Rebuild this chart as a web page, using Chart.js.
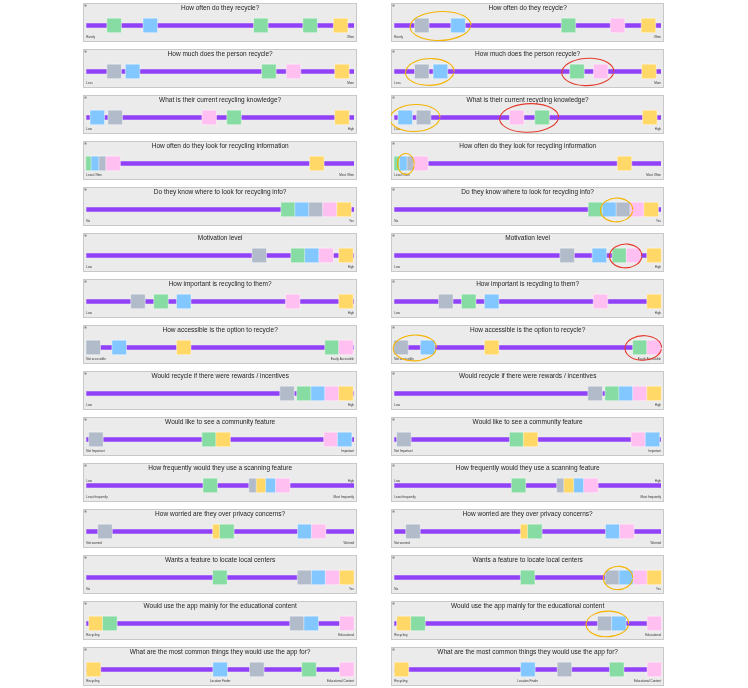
<!DOCTYPE html>
<html><head><meta charset="utf-8">
<script src="https://cdn.jsdelivr.net/npm/chart.js@4"></script>
<style>
body{margin:0;background:#fff;width:748px;height:688px;position:relative;overflow:hidden}
canvas{position:absolute}
</style></head><body>
<script>
const titles = [
  "How often do they recycle?",
  "How much does the person recycle?",
  "What is their current recycling knowledge?",
  "How often do they look for recycling information",
  "Do they know where to look for recycling info?",
  "Motivation level",
  "How important is recycling to them?",
  "How accessible is the option to recycle?",
  "Would recycle if there were rewards / incentives",
  "Would like to see a community feature",
  "How frequently would they use a scanning feature",
  "How worried are they over privacy concerns?",
  "Wants a feature to locate local centers",
  "Would use the app mainly for the educational content",
  "What are the most common things they would use the app for?"
];
const axisLabels = [
  ["Rarely","Often"],
  ["Less","More"],
  ["Low","High"],
  ["Least Often","Most Often"],
  ["No","Yes"],
  ["Low","High"],
  ["Low","High"],
  ["Not accessible","Easily Accessible"],
  ["Low","High"],
  ["Not Important","Important"],
  ["Least frequently","Most frequently"],
  ["Not worried","Worried"],
  ["No","Yes"],
  ["Recycling","Educational"],
  ["Recycling","Location Finder","Educational Content"]
];
const axisTickValues = [
  [0,100],[0,100],[0,100],[0,100],[0,100],[0,100],[0,100],[0,100],
  [0,100],[0,100],[0,100],[0,100],[0,100],[0,100],[0,50,100]
];
const topLabels = [null,null,null,null,null,null,null,null,null,null,["Low","High"],null,null,null,null];

// positions along the scale (0-100) and colour codes of the notes
const leftPositions = [
  [10.4, 23.9, 65.2, 83.6, 95.0],
  [10.4, 17.3, 68.2, 77.4, 95.5],
  [4.1, 10.8, 45.9, 55.2, 95.5],
  [2.5, 4.5, 7.4, 10.0, 86.1],
  [75.4, 80.6, 85.8, 91.0, 96.3],
  [64.6, 79.1, 84.3, 89.6, 97.0],
  [19.3, 27.9, 36.4, 77.1, 97.0],
  [2.6, 12.3, 36.4, 91.8, 97.0],
  [75.0, 81.3, 86.6, 91.8, 97.0],
  [3.6, 45.9, 51.1, 91.4, 96.5],
  [46.3, 63.4, 66.2, 69.7, 73.4],
  [7.0, 49.9, 52.5, 81.6, 86.8],
  [49.9, 81.5, 86.8, 92.0, 97.3],
  [3.6, 8.8, 78.7, 84.0, 97.3],
  [2.7, 50.0, 63.7, 83.2, 97.3]
];
const leftColors = [
  "gbggy","sbgpy","bspgy","gbspy","gbspy","sgbpy","sgbpy","sbygp",
  "sgbpy","sgypb","gsybp","sygbp","gsbpy","ygsbp","ybsgp"
];
const rightPositions = [
  [10.3, 23.9, 65.3, 83.7, 95.3],
  [10.3, 17.3, 68.5, 77.4, 95.5],
  [4.1, 11.0, 45.9, 55.4, 95.8],
  [2.6, 4.7, 7.5, 10.0, 86.3],
  [75.4, 80.7, 85.9, 91.1, 96.3],
  [64.8, 76.9, 84.4, 89.7, 97.4],
  [19.3, 27.9, 36.5, 77.3, 97.4],
  [2.5, 12.5, 36.5, 92.1, 97.4],
  [75.3, 81.7, 86.9, 92.1, 97.4],
  [3.6, 45.9, 51.1, 91.5, 96.8],
  [46.6, 63.6, 66.3, 70.0, 73.7],
  [7.0, 50.0, 52.7, 81.9, 87.2],
  [50.0, 81.8, 87.0, 92.3, 97.5],
  [3.6, 8.9, 78.9, 84.2, 97.5],
  [2.7, 50.1, 63.8, 83.4, 97.5]
];
const rightColors = [
  "sbgpy","sbgpy","bspgy","gbspy","gbspy","sbgpy","sgbpy","sbygp",
  "sgbpy","sgypb","gsybp","sygbp","gsbpy","ygsbp","ybsgp"
];
// hand-drawn circles on the right column: [panel, from, to]
const circleSpans = [
  [0, 5.9, 28.7], [1, 4.2, 22.4], [1, 62.8, 82.3], [2, -1.6, 17.1], [2, 39.5, 61.6],
  [3, 1.2, 7.5], [4, 77.3, 89.4], [5, 80.7, 92.8], [7, -0.4, 15.8], [7, 86.5, 100.2],
  [12, 78.4, 89.4], [13, 71.9, 87.9]
];
const circleKinds = ["y","y","r","y","r","y","y","r","y","r","y","y"];

const palette = {g:"#86DCA2", b:"#82C7FF", s:"#B1BBCA", p:"#FFBFF1", y:"#FFD867"};
const circleColor = {y:"#F4B400", r:"#E53A2C"};
const purple = "#9142F8";
const FONT = "'Liberation Sans', Arial, sans-serif";

const panelBg = {
  id: 'panelBg',
  beforeDraw(chart) {
    const {ctx, width, height} = chart;
    ctx.save();
    ctx.fillStyle = '#EBEBEB';
    ctx.fillRect(0, 0, width, height);
    ctx.strokeStyle = '#C8C8C8';
    ctx.lineWidth = 1;
    ctx.strokeRect(0.5, 0.5, width - 1, height - 1);
    ctx.fillStyle = '#8a8a8a';
    ctx.fillRect(1.5, 1.5, 2, 2);
    ctx.restore();
  }
};

function makePanel(col, i) {
  const left = col === 0 ? 83 : 391;
  const w = col === 0 ? 274 : 273;
  const top = Math.round(3.3 + i * 45.95);
  const c = document.createElement('canvas');
  c.style.left = left + 'px';
  c.style.top = top + 'px';
  c.style.width = w + 'px';
  c.style.height = '39px';
  c.width = w; c.height = 39;
  document.body.appendChild(c);

  const pos = (col === 0 ? leftPositions : rightPositions)[i];
  const cols = (col === 0 ? leftColors : rightColors)[i].split('');
  const circles = col === 1 ? circleSpans.map((s, k) => [s, circleKinds[k]]).filter(a => a[0][0] === i) : [];
  const tl = topLabels[i];

  const extras = {
    id: 'extras',
    afterDatasetsDraw(chart) {
      const {ctx, scales} = chart;
      const yb = scales.y.getPixelForValue(0);
      ctx.save();
      if (tl) {
        ctx.font = "3px " + FONT;
        ctx.fillStyle = '#333';
        ctx.textBaseline = 'bottom';
        ctx.textAlign = 'left';
        ctx.fillText(tl[0], scales.x.getPixelForValue(0), yb - 3);
        ctx.textAlign = 'right';
        ctx.fillText(tl[1], scales.x.getPixelForValue(100), yb - 3);
      }
      circles.forEach(([s, kind]) => {
        const x1 = scales.x.getPixelForValue(s[1]);
        const x2 = scales.x.getPixelForValue(s[2]);
        const rx = (x2 - x1) / 2;
        const ry = Math.min(16, Math.max(9, 9 + (x2 - x1) * 0.09));
        ctx.strokeStyle = circleColor[kind];
        ctx.lineWidth = 1.1;
        ctx.beginPath();
        ctx.ellipse((x1 + x2) / 2, yb + 0.5, rx, ry, -0.04, 0.15, Math.PI * 2 + 0.05);
        ctx.stroke();
      });
      ctx.restore();
    }
  };

  new Chart(c, {
    type: 'scatter',
    data: {
      datasets: [
        {
          data: pos.map(x => ({x: x, y: 0})),
          backgroundColor: cols.map(k => palette[k]),
          borderColor: 'rgba(255,255,255,0.55)',
          borderWidth: 0.8,
          pointStyle: 'rect',
          pointRadius: 10.3,
          pointHoverRadius: 10.3,
          clip: false
        },
        {
          type: 'line',
          showLine: true,
          data: [{x: 0, y: 0}, {x: 100, y: 0}],
          borderColor: purple,
          borderWidth: 4.6,
          borderCapStyle: 'butt',
          pointRadius: 0,
          clip: false
        }
      ]
    },
    options: {
      responsive: false,
      animation: false,
      events: [],
      layout: {autoPadding: false, padding: {left: 3.3, right: 3, top: 0, bottom: 2.5}},
      plugins: {
        legend: {display: false},
        tooltip: {enabled: false},
        title: {
          display: true,
          text: titles[i],
          color: '#1E1E1E',
          font: {family: FONT, size: 6.5, weight: 'normal'},
          padding: {top: 1.5, bottom: 4.7}
        }
      },
      scales: {
        x: {
          type: 'linear', min: 0, max: 100,
          grid: {display: false, drawTicks: false},
          border: {display: false},
          afterBuildTicks: (s) => { s.ticks = axisTickValues[i].map(v => ({value: v})); },
          ticks: {
            autoSkip: false, maxRotation: 0, minRotation: 0, align: 'inner',
            font: {family: FONT, size: 3}, color: '#333', padding: 1,
            callback: (v, idx) => axisLabels[i][idx]
          }
        },
        y: {display: false, min: -1, max: 1}
      }
    },
    plugins: [panelBg, extras]
  });
}

for (let i = 0; i < titles.length; i++) { makePanel(0, i); makePanel(1, i); }
</script>
</body></html>
